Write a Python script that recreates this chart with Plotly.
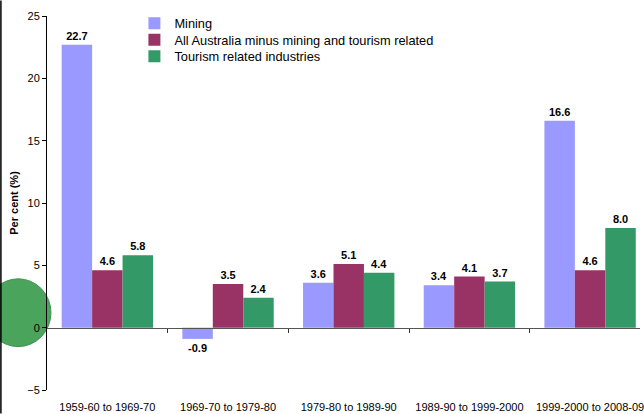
import plotly.graph_objects as go

categories = ["1959-60 to 1969-70", "1969-70 to 1979-80", "1979-80 to 1989-90",
              "1989-90 to 1999-2000", "1999-2000 to 2008-09"]
mining = [22.7, -0.9, 3.6, 3.4, 16.6]
all_aus = [4.6, 3.5, 5.1, 4.1, 4.6]
tourism = [5.8, 2.4, 4.4, 3.7, 8.0]
series_names = ["Mining", "All Australia minus mining and tourism related",
                "Tourism related industries"]
colors = ["#9999FF", "#993366", "#339966"]

xpos = list(range(len(categories)))
FONT = "Liberation Sans, Arial, sans-serif"

W, H = 644, 414
L, T, B = 47, 15.5, 23.5
pw = W - L
ph = H - T - B
xr = [-0.5, -0.5 + pw / 121.5]

legend_ids = ["legend", "legend2", "legend3"]
legend_rows = [23, 39.5, 56]  # pixel centre of each legend row

fig = go.Figure()
for name, vals, col, lg in zip(series_names, [mining, all_aus, tourism], colors, legend_ids):
    fig.add_trace(go.Bar(
        x=xpos, y=vals, name=name, marker_color=col, marker_line_width=0,
        text=[f"{v:.1f}" for v in vals], textposition="outside",
        textfont=dict(family=FONT, size=11, color="black", weight="bold"),
        cliponaxis=False, legend=lg,
    ))

# dummy trace to host the zero-line category axis
fig.add_trace(go.Scatter(x=[0], y=[0], xaxis="x2", mode="markers",
                         marker=dict(opacity=0), showlegend=False, hoverinfo="skip"))

legend_cfg = {}
for lg, row in zip(legend_ids, legend_rows):
    legend_cfg[lg] = dict(x=(135 - L) / pw, y=(H - B - row) / ph, xanchor="left",
                          yanchor="middle", bgcolor="rgba(0,0,0,0)",
                          font=dict(size=12.8, family=FONT), itemwidth=30,
                          borderwidth=0)

fig.update_layout(
    width=W, height=H,
    margin=dict(l=L, r=0, t=T, b=B, pad=0),
    paper_bgcolor="white", plot_bgcolor="rgba(0,0,0,0)",
    font=dict(family=FONT, size=11, color="black"),
    barmode="group", bargap=0.243, bargroupgap=0,
    showlegend=True,
    **legend_cfg,
    xaxis=dict(range=xr, tickmode="array", tickvals=xpos, ticktext=categories,
               showline=False, showgrid=False, zeroline=False,
               ticks="outside", ticklen=7, tickcolor="rgba(0,0,0,0)",
               tickfont=dict(size=11), ticklabeloverflow="allow"),
    xaxis2=dict(range=xr, overlaying="x", anchor="free", position=5 / 30,
                tickmode="array", tickvals=[0.5, 1.5, 2.5, 3.5, 4.5],
                showticklabels=False, ticks="outside", ticklen=4, tickcolor="#333",
                showline=True, linecolor="#555", linewidth=1,
                showgrid=False, zeroline=False),
    yaxis=dict(range=[-5, 25], dtick=5, tick0=0, showline=True, linecolor="black",
               linewidth=1, ticks="outside", ticklen=4, tickcolor="black",
               showgrid=False, zeroline=False, tickfont=dict(size=11),
               title=dict(text="<b>Per cent (%)</b>", font=dict(size=11), standoff=6)),
    shapes=[
        dict(type="circle", xref="paper", yref="paper",
             x0=(18 - 33 - L) / pw, x1=(18 + 33 - L) / pw,
             y0=(H - B - 347) / ph, y1=(H - B - 279) / ph,
             fillcolor="#3c9d4e", opacity=0.92, line=dict(color="#2f8a40", width=1),
             layer="below"),
        dict(type="line", xref="paper", yref="paper",
             x0=(0.6 - L) / pw, x1=(0.6 - L) / pw, y0=-B / ph, y1=1 + T / ph,
             line=dict(color="black", width=1.5)),
    ],
)

fig.write_html("out.html", config={"displayModeBar": False},
               post_script="document.body.style.margin='0';document.body.style.overflow='hidden';")
